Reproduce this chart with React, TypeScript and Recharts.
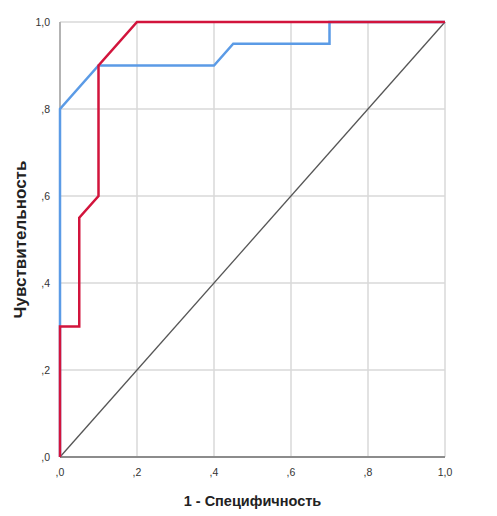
import { CartesianGrid, Line, LineChart, XAxis, YAxis } from "recharts";

const ticks = [0, 0.2, 0.4, 0.6, 0.8, 1];
const tickLabels = [",0", ",2", ",4", ",6", ",8", "1,0"];

const blueX = [0, 0, 0.1, 0.4, 0.45, 0.7, 0.7, 1];
const blueY = [0, 0.8, 0.9, 0.9, 0.95, 0.95, 1, 1];

const redX = [0, 0, 0.05, 0.05, 0.1, 0.1, 0.2, 1];
const redY = [0, 0.3, 0.3, 0.55, 0.6, 0.9, 1, 1];

const diagX = [0, 1];
const diagY = [0, 1];

const toPts = (xs: number[], ys: number[]) => xs.map((x, i) => ({ x, y: ys[i] }));

const fmt = (v: number) => tickLabels[ticks.findIndex((t) => Math.abs(t - v) < 1e-6)] ?? String(v);

export default function App() {
  const font = "'Liberation Sans', Arial, sans-serif";
  return (
    <div style={{ position: "absolute", left: 0, top: 0, background: "#fff", fontFamily: font }}>
      <LineChart width={497} height={516} margin={{ top: 22, right: 52, left: 0, bottom: 29 }}>
        <CartesianGrid stroke="#d9d9d9" strokeWidth={1.5} />
        {/* axis lines drawn as grid so the curves sit on top */}
        <CartesianGrid horizontal={false} verticalValues={[0]} stroke="#b3b3b3" strokeWidth={2} />
        <CartesianGrid vertical={false} horizontalValues={[0]} stroke="#8c8c8c" strokeWidth={2} />
        <XAxis
          type="number"
          dataKey="x"
          domain={[0, 1]}
          ticks={ticks}
          tickFormatter={fmt}
          tickLine={false}
          axisLine={false}
          height={30}
          tick={{ fontSize: 10.5, fill: "#333", fontFamily: font }}
          tickMargin={6}
          label={{ value: "1 - Специфичность", position: "insideBottom", offset: -19, fontSize: 14.5, fontWeight: "bold", fill: "#222", fontFamily: font }}
        />
        <YAxis
          type="number"
          dataKey="y"
          domain={[0, 1]}
          ticks={ticks}
          tickFormatter={fmt}
          tickLine={false}
          axisLine={false}
          width={60}
          tick={{ fontSize: 10.5, fill: "#333", fontFamily: font }}
          tickMargin={4}
          label={{ value: "Чувствительность", angle: -90, position: "insideLeft", offset: 20, fontSize: 17, fontWeight: "bold", fill: "#222", fontFamily: font, style: { textAnchor: "middle" } }}
        />
        <Line data={toPts(diagX, diagY)} dataKey="y" stroke="#555" strokeWidth={1.3} dot={false} isAnimationActive={false} type="linear" />
        <Line data={toPts(blueX, blueY)} dataKey="y" stroke="#5b9be6" strokeWidth={2.5} dot={false} isAnimationActive={false} type="linear" />
        <Line data={toPts(redX, redY)} dataKey="y" stroke="#d2143c" strokeWidth={2.5} dot={false} isAnimationActive={false} type="linear" />
      </LineChart>
    </div>
  );
}
